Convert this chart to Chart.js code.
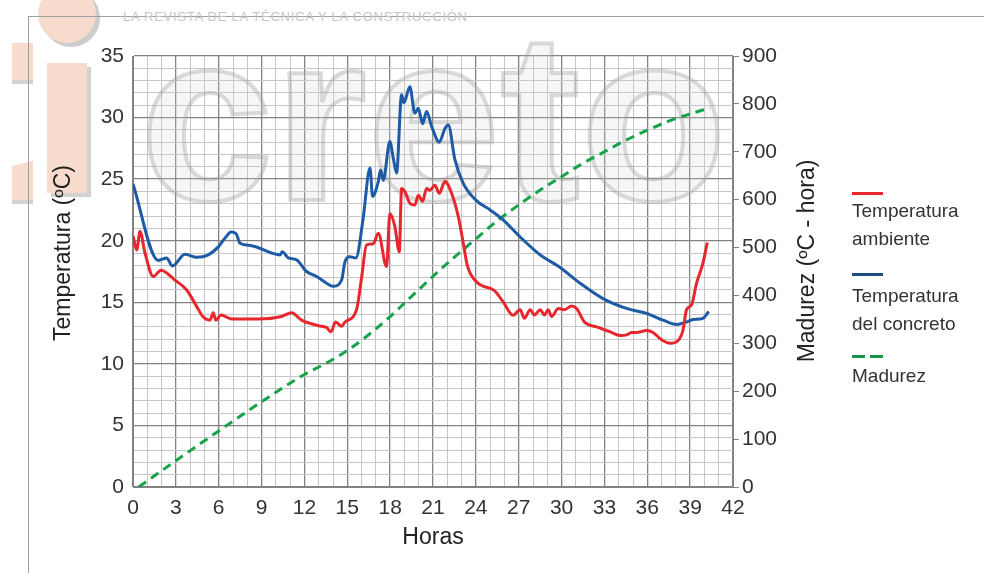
<!DOCTYPE html>
<html lang="es">
<head>
<meta charset="utf-8">
<title>Temperatura y madurez del concreto</title>
<script src="https://cdn.jsdelivr.net/npm/chart.js@4.4.1/dist/chart.umd.min.js"></script>
<style>
  body { margin: 0; background: #fff; font-family: "Liberation Sans", Arial, sans-serif; }
  #wrap { position: relative; width: 984px; height: 573px; overflow: hidden; }
  #fondo, #grafica { position: absolute; left: 0; top: 0; }
  .leyenda { position: absolute; left: 852px; font-size: 19px; line-height: 28px; color: #333; white-space: nowrap; }
  .linea { position: absolute; left: 852px; width: 31px; height: 3px; }
</style>
</head>
<body>
<div id="wrap">
  <svg id="fondo" width="984" height="573">
    <circle cx="71" cy="18" r="29" fill="#cdcdcd"/>
    <circle cx="67" cy="14" r="29" fill="#f7dbcd"/>
    <rect x="51" y="67" width="40" height="130" fill="#d2d2d2"/>
    <rect x="47" y="63" width="40" height="130" fill="#f7dbcd"/>
    <rect x="12" y="47" width="21" height="37" fill="#d2d2d2"/>
    <rect x="12" y="43" width="21" height="37" fill="#f7dbcd"/>
    <polygon points="12,170 33,165 33,204 12,204" fill="#d2d2d2"/>
    <polygon points="12,166 33,161 33,200 12,200" fill="#f7dbcd"/>
    <line x1="28" y1="16.5" x2="984" y2="16.5" stroke="#a0a0a0" stroke-width="1"/>
    <line x1="28.5" y1="16" x2="28.5" y2="573" stroke="#a0a0a0" stroke-width="1"/>
    <text x="123" y="21" font-size="13" fill="#c6c6c6" textLength="344">LA REVISTA DE LA TÉCNICA Y LA CONSTRUCCIÓN</text>
  </svg>
  <canvas id="grafica" width="984" height="573"></canvas>

  <div class="linea" style="top:192px;background:#e8262d"></div>
  <div class="leyenda" style="top:197px">Temperatura<br>ambiente</div>
  <div class="linea" style="top:273px;background:#1d4f7e"></div>
  <div class="leyenda" style="top:282px">Temperatura<br>del concreto</div>
  <div class="linea" style="top:355px;width:13px;background:#1a9447"></div>
  <div class="linea" style="top:355px;left:870px;width:13px;background:#1a9447"></div>
  <div class="leyenda" style="top:362px">Madurez</div>
</div>

<script>
// horas y temperatura ambiente (curva roja)
const horasAmbiente = [0, 0.26, 0.49, 0.84, 1.42, 1.96, 2.94, 3.76, 4.46, 4.92, 5.39, 5.62, 5.79, 6.16, 6.9, 8.77,
  10.4, 11.1, 11.8, 12.97, 13.55, 13.86, 14.18, 14.6, 14.84, 15.65, 16.0, 16.35, 16.82, 17.17, 17.75, 17.98,
  18.33, 18.64, 18.8, 19.03, 19.38, 19.73, 19.97, 20.27, 20.55, 20.78, 21.13, 21.44, 21.83, 22.3, 22.77, 23.12,
  23.4, 24.1, 25.3, 25.9, 26.6, 27.1, 27.4, 27.8, 28.1, 28.5, 28.8, 29.06, 29.3, 29.77, 30.2, 30.7, 31.05,
  31.6, 32.45, 33.4, 34.1, 34.55, 34.9, 35.25, 35.95, 36.4, 37.0, 37.6, 38.2, 38.5, 38.75, 39.1, 39.45, 39.9, 40.2];
const tempAmbiente = [20.4, 19.25, 20.75, 19.0, 17.1, 17.6, 16.8, 16.0, 14.65, 13.8, 13.55, 14.15, 13.55, 13.97, 13.65, 13.65,
  13.85, 14.15, 13.55, 13.1, 12.95, 12.6, 13.4, 13.05, 13.4, 14.4, 17.0, 19.65, 19.75, 20.6, 17.9, 22.2,
  21.15, 19.1, 24.25, 24.0, 23.05, 22.9, 23.7, 23.2, 24.25, 24.1, 24.5, 23.85, 24.8, 23.85, 21.95, 19.8,
  18.0, 16.6, 15.95, 15.05, 13.95, 14.4, 13.7, 14.4, 13.97, 14.4, 13.97, 14.4, 13.85, 14.5, 14.4, 14.7, 14.5,
  13.4, 13.0, 12.6, 12.3, 12.35, 12.55, 12.55, 12.7, 12.55, 11.95, 11.67, 11.95, 12.75, 14.4, 14.8, 16.55, 18.2, 19.85];

// horas y temperatura del concreto (curva azul)
const horasConcreto = [0, 1.77, 2.36, 2.75, 3.64, 4.46, 5.27, 5.97, 6.5, 6.86, 7.2, 7.49, 8.3, 9.7, 10.3, 10.45,
  10.87, 11.45, 12.15, 12.85, 13.55, 14.0, 14.6, 14.84, 15.19, 15.6, 16.1, 16.59, 16.77, 17.17, 17.33, 17.52,
  17.98, 18.22, 18.45, 18.8, 18.96, 19.38, 19.73, 19.97, 20.27, 20.55, 20.9, 21.44, 21.83, 22.07, 22.53, 23.1,
  24.0, 25.0, 26.0, 27.1, 28.5, 29.8, 31.3, 32.9, 34.55, 35.95, 37.1, 38.05, 38.75, 39.2, 39.9, 40.3];
const tempConcreto = [24.6, 18.4, 18.6, 17.95, 18.9, 18.65, 18.85, 19.5, 20.3, 20.7, 20.6, 19.8, 19.6, 19.0, 18.85, 19.1,
  18.6, 18.45, 17.5, 17.1, 16.55, 16.3, 16.8, 18.3, 18.7, 18.6, 21.7, 25.9, 23.6, 24.8, 25.75, 24.9,
  28.05, 26.7, 25.5, 31.85, 31.2, 32.5, 30.35, 30.75, 29.5, 30.5, 29.3, 28.0, 29.1, 29.4, 26.6, 24.7,
  23.3, 22.5, 21.6, 20.3, 18.85, 17.9, 16.55, 15.3, 14.5, 14.1, 13.55, 13.2, 13.4, 13.6, 13.7, 14.25];

// horas y madurez (curva verde, eje derecho)
const horasMadurez = [0.4, 3, 6, 9, 12, 13.5, 15, 16.5, 18, 19.5, 21, 22.5, 24, 25.5, 27, 28.5, 30, 31.5, 33, 34.5, 36, 37.5, 39, 40.4];
const madurez = [0, 55, 117, 178, 235, 258, 285, 318, 356, 398, 440, 480, 518, 556, 589, 620, 648, 676, 700, 724, 745, 764, 779, 792];

const fuente = '"Liberation Sans", Arial, sans-serif';
const grisMayor = '#828282';
const grisMenor = '#c6c6c6';

function puntos(xs, ys) {
  return xs.map((x, i) => ({ x: x, y: ys[i] }));
}

// marca de agua y títulos verticales
const decoracion = {
  id: 'decoracion',
  beforeDatasetsDraw(chart) {
    const ctx = chart.ctx;
    ctx.save();
    ctx.font = 'bold 240px ' + fuente;
    ctx.textBaseline = 'alphabetic';
    ctx.fillStyle = 'rgba(215,215,215,0.22)';
    ctx.strokeStyle = 'rgba(160,160,160,0.38)';
    ctx.lineWidth = 4;
    ctx.fillText('creto', 140, 200);
    ctx.strokeText('creto', 140, 200);
    ctx.restore();
  },
  afterDraw(chart) {
    const ctx = chart.ctx;
    ctx.save();
    ctx.font = '23px ' + fuente;
    ctx.fillStyle = '#222';
    ctx.textAlign = 'center';
    ctx.textBaseline = 'middle';
    [[64, 253, 'Temperatura (ºC)'], [808, 261, 'Madurez (ºC - hora)']].forEach(t => {
      ctx.save();
      ctx.translate(t[0], t[1]);
      ctx.rotate(-Math.PI / 2);
      ctx.fillText(t[2], 0, 0);
      ctx.restore();
    });
    ctx.restore();
  }
};

new Chart(document.getElementById('grafica'), {
  type: 'line',
  data: {
    datasets: [
      {
        label: 'Temperatura ambiente',
        data: puntos(horasAmbiente, tempAmbiente),
        borderColor: '#e8262d',
        borderWidth: 3,
        yAxisID: 'y'
      },
      {
        label: 'Temperatura del concreto',
        data: puntos(horasConcreto, tempConcreto),
        borderColor: '#1d5ba6',
        borderWidth: 3,
        yAxisID: 'y'
      },
      {
        label: 'Madurez',
        data: puntos(horasMadurez, madurez),
        borderColor: '#17a34a',
        borderWidth: 3,
        borderDash: [9, 6],
        yAxisID: 'y2'
      }
    ]
  },
  options: {
    responsive: false,
    animation: false,
    elements: {
      point: { radius: 0 },
      line: { cubicInterpolationMode: 'monotone', borderCapStyle: 'butt' }
    },
    layout: { padding: { left: 46, right: 158, top: 56, bottom: 18 } },
    plugins: {
      legend: { display: false },
      tooltip: { enabled: false }
    },
    scales: {
      x: {
        type: 'linear',
        min: 0,
        max: 42,
        afterFit: s => { s.height = 68; },
        border: { display: true, color: grisMayor },
        grid: {
          drawTicks: false,
          color: c => (c.tick.value % 3 === 0 ? grisMayor : grisMenor),
          lineWidth: c => (c.tick.value % 3 === 0 ? 1.3 : 1)
        },
        ticks: {
          stepSize: 1,
          autoSkip: false,
          maxRotation: 0,
          padding: 9,
          color: '#333',
          font: { family: fuente, size: 21 },
          callback: v => (v % 3 === 0 ? v : '')
        },
        title: {
          display: true,
          text: 'Horas',
          color: '#222',
          font: { family: fuente, size: 23 }
        }
      },
      y: {
        position: 'left',
        min: 0,
        max: 35,
        afterFit: s => { s.width = 87; },
        border: { display: true, color: grisMayor },
        grid: {
          drawTicks: false,
          color: c => (c.tick.value % 5 === 0 ? grisMayor : grisMenor),
          lineWidth: c => (c.tick.value % 5 === 0 ? 1.3 : 1)
        },
        ticks: {
          stepSize: 1,
          autoSkip: false,
          padding: 9,
          color: '#333',
          font: { family: fuente, size: 21 },
          callback: v => (v % 5 === 0 ? v : '')
        }
      },
      y2: {
        position: 'right',
        min: 0,
        max: 900,
        afterFit: s => { s.width = 93; },
        border: { display: true, color: grisMayor },
        grid: {
          drawOnChartArea: false,
          drawTicks: true,
          tickLength: 6,
          color: grisMayor
        },
        ticks: {
          stepSize: 100,
          padding: 3,
          color: '#333',
          font: { family: fuente, size: 21 }
        }
      }
    }
  },
  plugins: [decoracion]
});
</script>
</body>
</html>
